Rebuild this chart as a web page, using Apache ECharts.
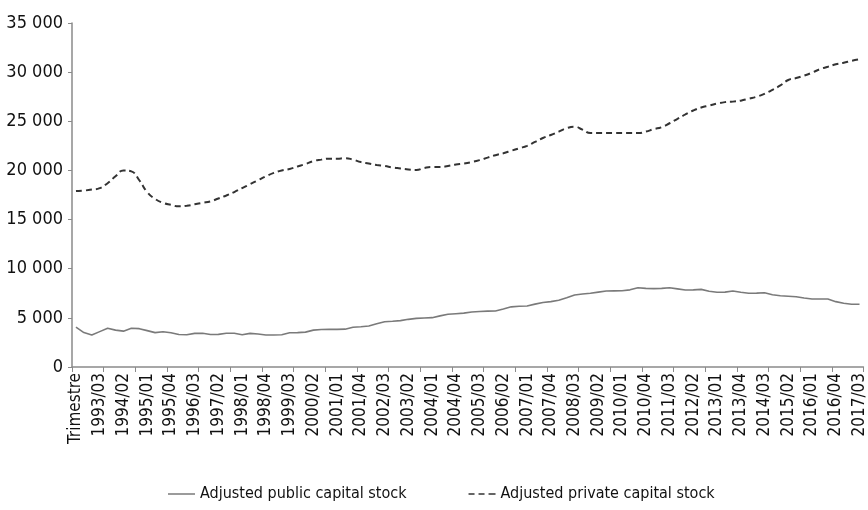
<!DOCTYPE html>
<html>
<head>
<meta charset="utf-8">
<script src="https://cdn.jsdelivr.net/npm/echarts@6/dist/echarts.min.js"></script>
<style>
html,body{margin:0;padding:0;background:#fff;}
#chart{width:868px;height:510px;}
</style>
</head>
<body>
<div id="chart"></div>
<script>
// Categories: first label "Trimestre", then quarters 1993/01 .. 2017/03
const categories = ["Trimestre"];
for (let y = 1993; y <= 2017; y++) {
  for (let q = 1; q <= 4; q++) {
    if (y === 2017 && q > 3) break;
    categories.push(y + "/0" + q);
  }
}

const seriesNames = ["Adjusted public capital stock", "Adjusted private capital stock"];

const publicStock = [
  4050, 3500, 3250, 3600, 3950, 3750, 3650, 3950, 3900, 3700,
  3500, 3580, 3480, 3300, 3280, 3420, 3430, 3300, 3320, 3430,
  3430, 3280, 3420, 3350, 3260, 3260, 3280, 3490, 3500, 3550,
  3750, 3820, 3830, 3830, 3850, 4040, 4100, 4170, 4400, 4610,
  4650, 4720, 4850, 4950, 4990, 5020, 5200, 5360, 5420, 5480,
  5600, 5650, 5680, 5700, 5900, 6120, 6180, 6210, 6400, 6570,
  6650, 6800, 7050, 7330, 7420, 7500, 7620, 7730, 7750, 7760,
  7850, 8070, 8000, 7970, 8000, 8070, 7950, 7830, 7850, 7900,
  7700, 7600, 7620, 7730, 7600, 7500, 7520, 7560, 7350, 7250,
  7200, 7150, 7020, 6920, 6920, 6920, 6650, 6480, 6380, 6380
];

const privateStock = [
  17900, 17950, 18050, 18200, 18700, 19400, 20000, 19900, 19000, 17800,
  17100, 16700, 16500, 16350, 16400, 16550, 16700, 16850, 17150, 17450,
  17800, 18200, 18600, 19000, 19400, 19750, 20000, 20150, 20400, 20650,
  20950, 21100, 21200, 21200, 21250, 21100, 20850, 20700, 20550, 20450,
  20300, 20200, 20100, 20050, 20250, 20350, 20350, 20450, 20600, 20700,
  20850, 21050, 21300, 21550, 21750, 22000, 22250, 22500, 22900, 23300,
  23600, 23950, 24300, 24450, 24150, 23800, 23800, 23800, 23800, 23800,
  23800, 23800, 23950, 24200, 24400, 24800, 25250, 25700, 26100, 26400,
  26600, 26800, 26950, 27000, 27100, 27300, 27500, 27800, 28200, 28650,
  29200, 29400, 29650, 29950, 30300, 30550, 30800, 30950, 31150, 31300
];

const yMin = 0, yMax = 35000, yStep = 5000;

const font = "'Liberation Sans Narrow', 'DejaVu Sans Condensed', 'Roboto Condensed', sans-serif";

function fmt(v) {
  return String(v).replace(/\B(?=(\d{3})+(?!\d))/g, ' ');
}

const chart = echarts.init(document.getElementById('chart'));
chart.setOption({
  animation: false,
  backgroundColor: '#ffffff',
  grid: { left: 72, right: 3, top: 23, bottom: 143, containLabel: false },
  legend: {
    bottom: 3,
    left: 163,
    itemGap: 62,
    itemWidth: 27,
    itemHeight: 2,
    textStyle: { fontFamily: font, fontSize: 16, color: '#111' },
    data: [
      { name: seriesNames[0], icon: 'path://M0,0 L27,0 L27,1.5 L0,1.5 Z', itemStyle: { color: '#7a7a7a' } },
      { name: seriesNames[1], icon: 'path://M0,0 L6,0 L6,1.5 L0,1.5 Z M10,0 L16,0 L16,1.5 L10,1.5 Z M20,0 L27,0 L27,1.5 L20,1.5 Z', itemStyle: { color: '#333333' } }
    ]
  },
  xAxis: {
    type: 'category',
    data: categories,
    boundaryGap: true,
    axisLine: { lineStyle: { color: '#8a8a8a', width: 1.5 } },
    axisTick: { show: true, interval: 3, length: 5, lineStyle: { color: '#8a8a8a' } },
    axisLabel: {
      interval: 2,
      rotate: 90,
      margin: 6,
      fontFamily: font,
      fontSize: 17,
      color: '#111'
    },
    splitLine: { show: false }
  },
  yAxis: {
    type: 'value',
    min: yMin,
    max: yMax,
    interval: yStep,
    axisLine: { show: true, lineStyle: { color: '#8a8a8a', width: 1.5 } },
    axisTick: { show: true, length: 4, lineStyle: { color: '#8a8a8a' } },
    axisLabel: {
      formatter: fmt,
      margin: 9,
      fontFamily: font,
      fontSize: 18,
      color: '#111'
    },
    splitLine: { show: false }
  },
  series: [
    {
      name: seriesNames[0],
      type: 'line',
      data: publicStock,
      symbol: 'none',
      showSymbol: false,
      smooth: false,
      itemStyle: { color: '#7a7a7a' },
      lineStyle: { color: '#7a7a7a', width: 1.6 }
    },
    {
      name: seriesNames[1],
      type: 'line',
      data: privateStock,
      symbol: 'none',
      showSymbol: false,
      smooth: true,
      itemStyle: { color: '#333333' },
      lineStyle: { color: '#333333', width: 2, type: [6, 4] }
    }
  ]
});
</script>
</body>
</html>
